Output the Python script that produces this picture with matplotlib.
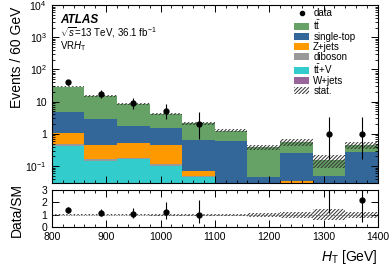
import numpy as np
import matplotlib
matplotlib.use("Agg")
import matplotlib.pyplot as plt
from matplotlib.ticker import MultipleLocator, LogLocator, NullFormatter
from matplotlib.lines import Line2D

plt.rcParams['font.family'] = ['Liberation Sans', 'DejaVu Sans']
plt.rcParams['mathtext.fontset'] = 'custom'
plt.rcParams['mathtext.rm'] = 'Liberation Sans'
plt.rcParams['mathtext.it'] = 'Liberation Sans:italic'
plt.rcParams['mathtext.bf'] = 'Liberation Sans:bold'
plt.rcParams['hatch.linewidth'] = 0.7

# ---- data ----
bin_edges = [800, 860, 920, 980, 1040, 1100, 1160, 1220, 1280, 1340, 1400]
ttbar      = [24.1, 12.1, 6.8, 2.65, 1.46, 0.65, 0.33, 0.32, 0.10, 0.17]
single_top = [3.81, 2.35, 1.27, 1.10, 0.57, 0.60, 0.047, 0.215, 0.05, 0.28]
zjets      = [0.57, 0.284, 0.33, 0.335, 0.022, 0.0, 0.0, 0.035, 0.0, 0.0]
diboson    = [0.05, 0.02, 0.02, 0.02, 0.004, 0.0, 0.0, 0.0, 0.0, 0.0]
ttV        = [0.42, 0.146, 0.16, 0.095, 0.044, 0.0, 0.0, 0.0, 0.0, 0.0]
wjets      = [0.005, 0.002, 0.002, 0.002, 0.001, 0.0, 0.0, 0.0, 0.0, 0.0]
stat_rel   = [0.04, 0.05, 0.06, 0.07, 0.08, 0.10, 0.17, 0.24, 0.44, 0.26]
data       = [40, 17, 9, 5, 2, 0, 0, 0, 1, 1]
data_err_lo = [6.3, 4.1, 2.9, 2.16, 1.29, 0, 0, 0, 0.83, 0.83]
data_err_hi = [7.4, 5.2, 4.1, 3.38, 2.64, 0, 0, 0, 2.30, 2.30]

labels = [r'$\mathrm{t\bar{t}}$', 'single-top', 'Z+jets', 'diboson',
          r'$\mathrm{t\bar{t}}$+V', 'W+jets']
colors = ['#66a266', '#336699', '#ff9900', '#999999', '#33cccc', '#996699']

edges = np.array(bin_edges, dtype=float)
centers = 0.5 * (edges[:-1] + edges[1:])
comps_bottom_up = [wjets, ttV, diboson, zjets, single_top, ttbar]
labels_bu = labels[::-1]
colors_bu = colors[::-1]

fig = plt.figure(figsize=(3.9, 2.65), dpi=100)
ax = fig.add_axes([0.133, 0.309, 0.836, 0.672])
axr = fig.add_axes([0.133, 0.143, 0.836, 0.14])

base = np.full(len(centers), 1e-4)
handles = {}
for vals, lab, col in zip(comps_bottom_up, labels_bu, colors_bu):
    top = base + np.array(vals)
    h = ax.stairs(top, edges, baseline=base, fill=True, color=col, label=lab, lw=0)
    handles[lab] = h
    base = top
total = base

hatch_col = '#333333'
rel = np.array(stat_rel)
hb = ax.stairs(total * (1 + rel), edges, baseline=total * (1 - rel), fill=True,
               facecolor='none', edgecolor=hatch_col, hatch='/////////', lw=0, label='stat.')

d = np.array(data, dtype=float)
mask = d > 0
ax.errorbar(centers[mask], d[mask],
            yerr=[np.array(data_err_lo)[mask], np.array(data_err_hi)[mask]],
            fmt='o', color='black', ms=3.5, elinewidth=0.8, capsize=0)

ax.set_yscale('log')
ax.set_xlim(800, 1400)

# ratio
ratio = d / total
axr.stairs(1 + rel, edges, baseline=1 - rel, fill=True, facecolor='none',
           edgecolor=hatch_col, hatch='/////////', lw=0)
axr.plot([800, 1400], [1, 1], color='#555555', lw=0.6, ls=(0, (1, 1)))
rlo = np.array(data_err_lo) / total
rhi = np.array(data_err_hi) / total
axr.errorbar(centers[mask], ratio[mask], yerr=[rlo[mask], rhi[mask]], fmt='o',
             color='black', ms=3.5, elinewidth=0.8, capsize=0)
axr.set_xlim(800, 1400)
axr.set_ylim(0, 3)

for a in (ax, axr):
    a.tick_params(which='both', direction='in', top=True, right=True, labelsize=7.5)
    a.tick_params(which='major', length=5, width=0.7)
    a.tick_params(which='minor', length=2.5, width=0.6)
    a.xaxis.set_major_locator(MultipleLocator(100))
    a.xaxis.set_minor_locator(MultipleLocator(20))
    for s in a.spines.values():
        s.set_linewidth(0.8)

ax.yaxis.set_minor_locator(LogLocator(base=10, subs=np.arange(2, 10), numticks=50))
ax.yaxis.set_minor_formatter(NullFormatter())
ax.set_yticks([0.1, 1, 10, 100, 1000, 10000])
ax.set_yticklabels([r'$10^{-1}$', '1', '10', r'$10^{2}$', r'$10^{3}$', r'$10^{4}$'])
ax.set_ylim(10**-1.53, 1e4)
ax.tick_params(axis='x', labelbottom=False)

axr.set_yticks([0, 1, 2, 3])
axr.set_ylabel('Data/SM', fontsize=10)
axr.yaxis.set_label_coords(-0.085, 0.45)
axr.set_xlabel(r'$H_\mathrm{T}$ [GeV]', fontsize=10, loc='right')

ax.set_ylabel('Events / 60 GeV', fontsize=10, loc='top')
ax.yaxis.set_label_coords(-0.085, 0.99)

ax.text(0.025, 0.916, 'ATLAS', transform=ax.transAxes, fontsize=8.5,
        fontweight='bold', fontstyle='italic', va='center')
ax.text(0.025, 0.848, r'$\sqrt{s}$=13 TeV, 36.1 fb$^{-1}$', transform=ax.transAxes,
        fontsize=7, va='center')
ax.text(0.025, 0.768, r'VR$H_\mathrm{T}$', transform=ax.transAxes, fontsize=7, va='center')

data_handle = Line2D([], [], marker='o', color='black', ms=3.0, ls='none')
order = ['data'] + labels + ['stat.']
hmap = dict(handles)
hmap['data'] = data_handle
hmap['stat.'] = hb
leg = ax.legend([hmap[k] for k in order], order, loc='upper left',
                bbox_to_anchor=(0.73, 1.005), frameon=False, fontsize=7,
                handlelength=1.6, handleheight=0.75, labelspacing=0.0,
                handletextpad=0.4, borderaxespad=0.2, borderpad=0.2)

fig.savefig('out.png', dpi=100)
